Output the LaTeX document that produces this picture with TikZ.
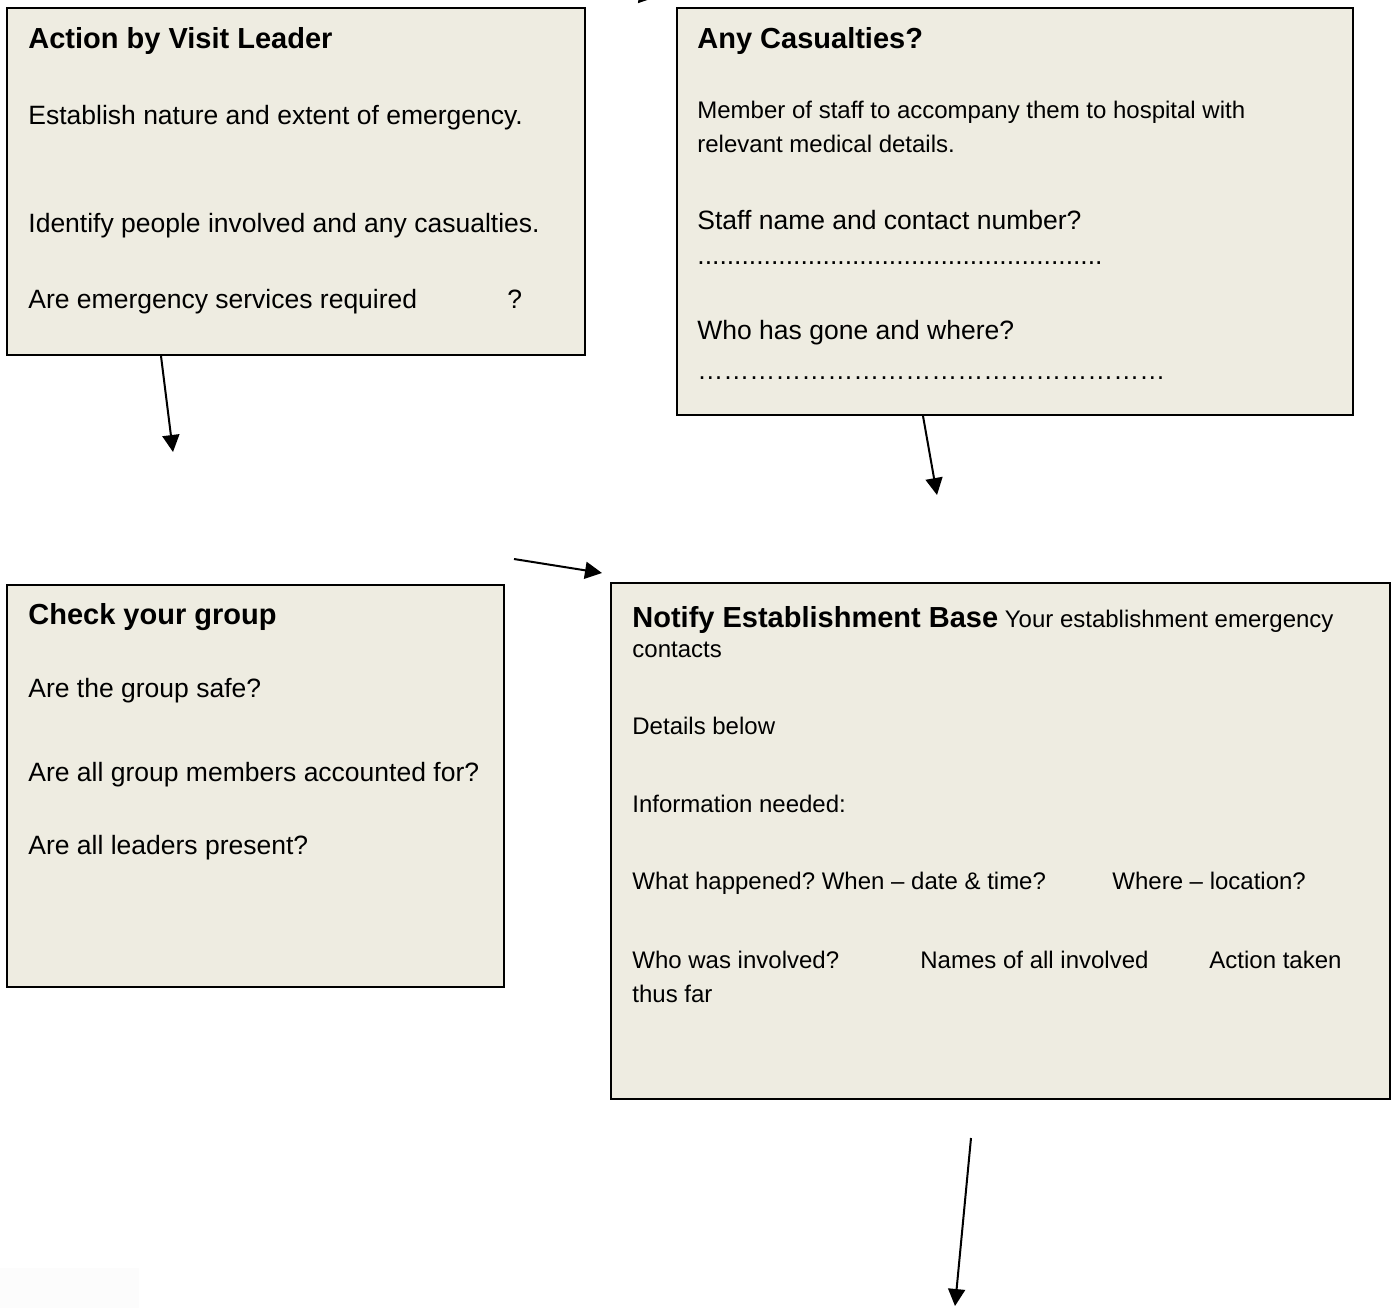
\documentclass[tikz,border=0pt]{standalone}
\usepackage{fontspec}
\setmainfont{Liberation Sans}
\usetikzlibrary{arrows.meta,fit,calc}
\definecolor{boxfill}{HTML}{EEECE1}

\begin{document}
\begin{tikzpicture}[
    x=0.5pt, y=-0.5pt,
    box/.style={draw, line width=1pt, fill=boxfill, inner sep=0pt},
    ttl/.style={anchor=base west, inner sep=0pt, font=\fontsize{14.5}{17}\selectfont\bfseries},
    txt/.style={anchor=base west, inner sep=0pt, font=\fontsize{13.25}{16}\selectfont},
    sml/.style={anchor=base west, inner sep=0pt, font=\fontsize{12}{14}\selectfont},
    arr/.style={-{Triangle[length=8.5pt,width=8.5pt]}, line width=1pt},
]
\useasboundingbox (0,0) rectangle (1397,1308);

% The four boxes
\node[box, fit={(7,8) (585,355)}] (act) {};
\node[box, fit={(677,8) (1353,415)}] (cas) {};
\node[box, fit={(7,585) (504,987)}] (chk) {};
\node[box, fit={(611,583) (1390,1099)}] (note) {};
\node[fill=black!1, inner sep=0pt, fit={(0,1268) (139,1308)}] (blank) {};

% Action by Visit Leader
\node[ttl] (act-t) at (28,48) {Action by Visit Leader};
\node[txt] (act-1) at (28,124) {Establish nature and extent of emergency.};
\node[txt] (act-2) at (28,232) {Identify people involved and any casualties.};
\node[txt] (act-3) at (28,308) {Are emergency services required};
\node[txt] (act-q) at (507,308) {?};

% Any Casualties?
\node[ttl] (cas-t) at (697,48) {Any Casualties?};
\node[sml] (cas-1) at (697,118) {Member of staff to accompany them to hospital with};
\node[sml] (cas-2) at (697,152) {relevant medical details.};
\node[txt] (cas-3) at (697,229) {Staff name and contact number?};
\node[txt] (cas-4) at (697,264) {.......................................................};
\node[txt] (cas-5) at (697,339) {Who has gone and where?};
\node[txt, font=\fontsize{13}{16}\selectfont] (cas-6) at (697,379) {………………………………………………};

% Check your group
\node[ttl] (chk-t) at (28,624) {Check your group};
\node[txt] (chk-1) at (28,697) {Are the group safe?};
\node[txt] (chk-2) at (28,781) {Are all group members accounted for?};
\node[txt] (chk-3) at (28,854) {Are all leaders present?};

% Notify Establishment Base
\node[sml] (note-t) at (632,627) {{\fontsize{14.5}{17}\selectfont\bfseries Notify Establishment Base} Your establishment emergency};
\node[sml] (note-1) at (632,657) {contacts};
\node[sml] (note-2) at (632,734) {Details below};
\node[sml] (note-3) at (632,812) {Information needed:};
\node[sml] (note-4) at (632,889) {What happened?\ When -- date \& time?};
\node[sml] (note-5) at (1112,889) {Where -- location?};
\node[sml] (note-6) at (632,968) {Who was involved?};
\node[sml] (note-7) at (920,968) {Names of all involved};
\node[sml] (note-8) at (1209,968) {Action taken};
\node[sml] (note-9) at (632,1002) {thus far};

% Arrows
\coordinate (top) at (567,-16);
\coordinate (a1) at (173,452);
\coordinate (a2) at (937,495);
\coordinate (a4) at (955,1306);
\draw[arr] (top) -- ($(cas.north west)+(-20,-10)$);
\draw[arr] ($(act.south west)+(155,0)$) -- (a1);
\draw[arr] ($(cas.south west)+(247,0)$) -- (a2);
\draw[arr] ($(chk.north east)+(9,-25)$) -- ($(note.north west)+(-8,-9)$);
\draw[arr] ($(note.south west)+(361,38)$) -- (a4);
\end{tikzpicture}
\end{document}
